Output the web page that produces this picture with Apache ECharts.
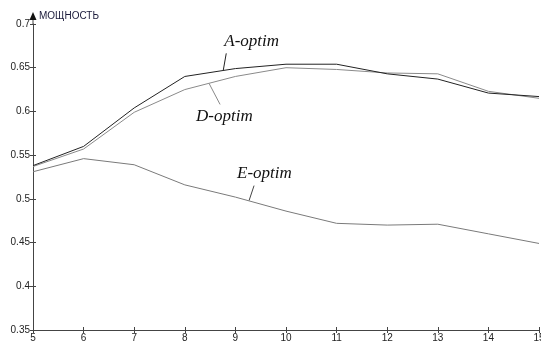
<!DOCTYPE html>
<html><head><meta charset="utf-8">
<script src="https://cdn.jsdelivr.net/npm/echarts@6/dist/echarts.min.js"></script>
<style>html,body{margin:0;padding:0;background:#fff}#c{width:541px;height:341px}</style>
</head><body><div id="c"></div>
<script>
const categories = [5, 6, 7, 8, 9, 10, 11, 12, 13, 14, 15];
const aOptim = [0.538, 0.560, 0.604, 0.640, 0.649, 0.654, 0.654, 0.643, 0.637, 0.621, 0.617];
const dOptim = [0.537, 0.557, 0.599, 0.625, 0.640, 0.650, 0.648, 0.644, 0.643, 0.623, 0.615];
const eOptim = [0.531, 0.546, 0.539, 0.516, 0.502, 0.486, 0.472, 0.470, 0.471, 0.460, 0.449];
const yTicks = [0.35, 0.4, 0.45, 0.5, 0.55, 0.6, 0.65, 0.7];
const yName = 'МОЩНОСТЬ';
const seriesNames = ['A-optim', 'D-optim', 'E-optim'];
// annotation anchors in data units (where each leader touches its line)
const annAnchors = [[8.76, 0.647], [8.48, 0.632], [9.27, 0.498]];

const chart = echarts.init(document.getElementById('c'));
const toPairs = arr => categories.map((c, i) => [c, arr[i]]);
const axisFont = {fontFamily: 'Liberation Sans, Arial, sans-serif', fontSize: 10, color: '#222'};
const ax = {lineStyle: {color: '#444', width: 1}};
chart.setOption({
  animation: false,
  grid: {left: 33, right: 2, top: 24, bottom: 11, containLabel: false, outerBoundsMode: 'none'},
  xAxis: [{
    type: 'value', min: 5, max: 15, interval: 1,
    axisLine: ax, splitLine: {show: false},
    axisTick: {length: 3, lineStyle: {color: '#444'}},
    axisLabel: Object.assign({margin: 3}, axisFont)
  }, {
    type: 'value', min: 5, max: 15, interval: 1, position: 'bottom',
    axisLine: {show: false}, splitLine: {show: false}, axisLabel: {show: false},
    axisTick: {inside: true, length: 3, lineStyle: {color: '#444'}}
  }],
  yAxis: [{
    type: 'value', min: 0.35, max: 0.7, interval: 0.05,
    axisLine: ax, splitLine: {show: false},
    axisTick: {length: 3, lineStyle: {color: '#444'}},
    axisLabel: Object.assign({margin: 3, formatter: v => String(+v.toFixed(2))}, axisFont)
  }, {
    type: 'value', min: 0.35, max: 0.7, interval: 0.05, position: 'left',
    axisLine: {show: false}, splitLine: {show: false}, axisLabel: {show: false},
    axisTick: {inside: true, length: 3, lineStyle: {color: '#444'}}
  }],
  series: [
    {name: seriesNames[0], type: 'line', data: toPairs(aOptim), showSymbol: false, lineStyle: {color: '#222', width: 1}, z: 3},
    {name: seriesNames[1], type: 'line', data: toPairs(dOptim), showSymbol: false, lineStyle: {color: '#8a8a8a', width: 1}, z: 2},
    {name: seriesNames[2], type: 'line', data: toPairs(eOptim), showSymbol: false, lineStyle: {color: '#7a7a7a', width: 1}, z: 2}
  ]
});

const axTop = chart.convertToPixel({xAxisIndex: 0, yAxisIndex: 0}, [5, 0.7]);
// offsets relative to anchor (pixels): leader end (dx,dy), text left/middle (tx,ty)
const annCfg = [
  {dx: 3, dy: -17, tx: 1, ty: -29, color: '#222'},
  {dx: 11, dy: 21, tx: -13, ty: 33, color: '#888'},
  {dx: 5, dy: -15, tx: -12, ty: -27, color: '#444'}
];
const graphics = [
  {type: 'line', shape: {x1: axTop[0], y1: axTop[1], x2: axTop[0], y2: axTop[1] - 8}, style: {stroke: '#444', lineWidth: 1}},
  {type: 'polygon', shape: {points: [[axTop[0] - 3.5, axTop[1] - 4], [axTop[0] + 3.5, axTop[1] - 4], [axTop[0], axTop[1] - 12]]}, style: {fill: '#111'}},
  {type: 'text', x: axTop[0] + 6, y: axTop[1] - 13, style: {text: yName, fontFamily: 'Liberation Sans, Arial, sans-serif', fontSize: 10, fill: '#1a1a3a'}}
];
annAnchors.forEach((a, i) => {
  const p = chart.convertToPixel({xAxisIndex: 0, yAxisIndex: 0}, a);
  const c = annCfg[i];
  graphics.push({type: 'line', shape: {x1: p[0], y1: p[1], x2: p[0] + c.dx, y2: p[1] + c.dy}, style: {stroke: c.color, lineWidth: 1}});
  graphics.push({type: 'text', x: p[0] + c.tx, y: p[1] + c.ty, style: {text: seriesNames[i], fontFamily: 'Liberation Serif, Times New Roman, serif', fontStyle: 'italic', fontSize: 17, fill: '#111', verticalAlign: 'middle'}});
});
chart.setOption({graphic: graphics});
</script></body></html>
